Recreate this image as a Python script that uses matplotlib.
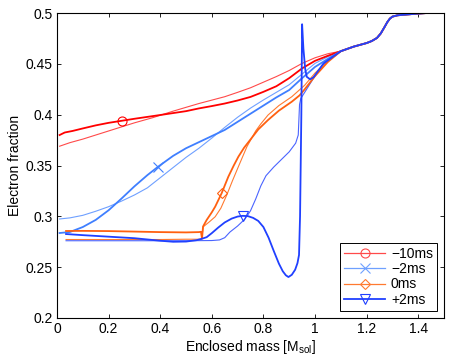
import matplotlib
matplotlib.use("Agg")
import matplotlib.pyplot as plt
from matplotlib.lines import Line2D

plt.rcParams['font.family'] = ['Liberation Sans', 'DejaVu Sans']
plt.rcParams['font.size'] = 10

# shared tail where all profiles converge
tail_x = [1.1, 1.15, 1.2, 1.22, 1.24, 1.255, 1.27, 1.28, 1.29, 1.30, 1.32, 1.35, 1.4, 1.43, 1.5]
tail_y = [0.4625, 0.467, 0.4705, 0.4725, 0.4755, 0.480, 0.4865, 0.491, 0.4945, 0.4965, 0.4978, 0.4985, 0.4995, 0.5, 0.5]

# -10ms
m10_thick_x = [0.01, 0.03, 0.06, 0.1, 0.15, 0.2, 0.25, 0.3, 0.4, 0.5, 0.55, 0.6, 0.65, 0.7, 0.75, 0.8,
               0.85, 0.9, 0.95, 1.0, 1.05]
m10_thick_y = [0.380, 0.3825, 0.384, 0.3865, 0.3895, 0.392, 0.394, 0.396, 0.3997, 0.4035, 0.4062, 0.4085, 0.411, 0.414, 0.4175, 0.4225,
               0.428, 0.436, 0.4456, 0.453, 0.458]
m10_thin_x = [0.01, 0.05, 0.1, 0.2, 0.3, 0.37, 0.45, 0.55, 0.65, 0.7, 0.75, 0.8, 0.85, 0.9, 0.95, 1.0, 1.05]
m10_thin_y = [0.369, 0.3725, 0.376, 0.384, 0.392, 0.397, 0.4035, 0.411, 0.4177, 0.422, 0.4265, 0.432, 0.4375, 0.4435, 0.4505, 0.456, 0.460]

# -2ms
m2_thick_x = [0.01, 0.05, 0.1, 0.15, 0.2, 0.25, 0.3, 0.35, 0.39, 0.45, 0.5, 0.55, 0.6, 0.65, 0.7, 0.75, 0.8,
              0.85, 0.9, 0.95, 1.0, 1.05]
m2_thick_y = [0.2836, 0.2846, 0.2895, 0.2965, 0.306, 0.3175, 0.3295, 0.3405, 0.3485, 0.3595, 0.367, 0.373, 0.379, 0.385, 0.393, 0.401, 0.409,
              0.417, 0.4243, 0.436, 0.447, 0.455]
m2_thin_x = [0.01, 0.05, 0.1, 0.15, 0.2, 0.25, 0.3, 0.35, 0.39, 0.45, 0.5, 0.55, 0.6, 0.65, 0.7, 0.75, 0.8,
             0.85, 0.9, 0.95, 1.0, 1.05]
m2_thin_y = [0.2974, 0.2985, 0.301, 0.305, 0.3095, 0.315, 0.321, 0.328, 0.336, 0.348, 0.358, 0.367, 0.377, 0.3875, 0.3975, 0.4065, 0.4145,
             0.422, 0.4295, 0.440, 0.4505, 0.457]

# 0ms
p0_thick_x = [0.035, 0.1, 0.2, 0.3, 0.4, 0.5, 0.55, 0.558, 0.562, 0.566, 0.58, 0.6, 0.613, 0.638, 0.664, 0.685, 0.703,
              0.725, 0.748, 0.78, 0.818, 0.86, 0.91, 0.94, 0.96, 0.98, 1.0, 1.05]
p0_thick_y = [0.2856, 0.2857, 0.2855, 0.285, 0.2845, 0.2842, 0.2845, 0.2848, 0.2780, 0.2900, 0.2964, 0.304, 0.3095, 0.3227, 0.339, 0.350, 0.3587,
              0.3675, 0.375, 0.3855, 0.3948, 0.404, 0.4128, 0.419, 0.425, 0.4315, 0.438, 0.452]
p0_thin_x = [0.035, 0.2, 0.4, 0.5, 0.56, 0.567, 0.59, 0.613, 0.635, 0.658, 0.68, 0.703, 0.72, 0.736, 0.77, 0.79,
             0.818, 0.86, 0.91, 0.96, 1.0, 1.05]
p0_thin_y = [0.2772, 0.2772, 0.2772, 0.2775, 0.2775, 0.2898, 0.2945, 0.2996, 0.308, 0.321, 0.335, 0.3489, 0.359, 0.3685, 0.384, 0.391,
             0.3997, 0.409, 0.4177, 0.429, 0.441, 0.453]

# +2ms
p2_thick_x = [0.035, 0.1, 0.2, 0.3, 0.4, 0.45, 0.5, 0.54, 0.562, 0.58, 0.6, 0.625, 0.65, 0.677, 0.70, 0.72, 0.74,
              0.76, 0.78, 0.80, 0.82, 0.84, 0.86, 0.875, 0.887, 0.897, 0.91, 0.923, 0.932, 0.938, 0.942,
              0.947, 0.950, 0.955, 0.962, 0.968, 0.981, 0.994, 1.033]
p2_thick_y = [0.2826, 0.2815, 0.2800, 0.2785, 0.2760, 0.2750, 0.2752, 0.2765, 0.2780, 0.2795, 0.2835, 0.2890, 0.2940, 0.2978, 0.2998, 0.3005, 0.3002,
              0.2985, 0.2955, 0.2895, 0.2790, 0.2660, 0.2535, 0.2460, 0.2420, 0.2403, 0.2425, 0.2475, 0.2540, 0.2620, 0.300,
              0.400, 0.489, 0.465, 0.445, 0.4373, 0.4348, 0.4368, 0.4505]
p2_thin_x = [0.035, 0.2, 0.4, 0.5, 0.6, 0.63, 0.65, 0.67, 0.7, 0.729, 0.75, 0.77, 0.79, 0.81, 0.84, 0.87, 0.9,
             0.925, 0.935, 0.94, 0.945, 0.96, 0.994, 1.03]
p2_thin_y = [0.276, 0.276, 0.276, 0.276, 0.2762, 0.2768, 0.279, 0.2845, 0.2905, 0.2975, 0.3055, 0.317, 0.330, 0.340, 0.3485, 0.356, 0.3635,
             0.372, 0.380, 0.410, 0.416, 0.422, 0.4358, 0.449]

labels = ['\u221210ms', '\u22122ms', '0ms', '+2ms']
colors = ['#ff0000', '#3f7fff', '#ff6010', '#2040ff']
thin_colors = ['#ff4a4a', '#6fa0ff', '#ff7a30', '#4a64ff']
markers = ['o', 'x', 'D', 'v']
mark_idx = [6, 8, 13, 15]

fig = plt.figure(figsize=(4.5, 3.6), dpi=100)
ax = fig.add_axes([0.1267, 0.1167, 0.86, 0.847])

thick = [(m10_thick_x, m10_thick_y), (m2_thick_x, m2_thick_y), (p0_thick_x, p0_thick_y), (p2_thick_x, p2_thick_y)]
thin = [(m10_thin_x, m10_thin_y), (m2_thin_x, m2_thin_y), (p0_thin_x, p0_thin_y), (p2_thin_x, p2_thin_y)]

for i in range(4):
    tx, ty = thin[i]
    ax.plot(tx + tail_x, ty + tail_y, color=thin_colors[i], lw=0.8)
for i in range(4):
    kx, ky = thick[i]
    ms = 5 if markers[i] == 'D' else 6.5
    ax.plot(kx + tail_x, ky + tail_y, color=colors[i], lw=1.3,
            marker=markers[i], markevery=[mark_idx[i]], mfc='none', ms=ms, mew=0.8)

ax.set_xlim(0, 1.5)
ax.set_ylim(0.2, 0.5)
ax.set_xticks([0, 0.2, 0.4, 0.6, 0.8, 1, 1.2, 1.4])
ax.set_xticklabels(['0', '0.2', '0.4', '0.6', '0.8', '1', '1.2', '1.4'])
ax.set_yticks([0.2, 0.25, 0.3, 0.35, 0.4, 0.45, 0.5])
ax.set_yticklabels(['0.2', '0.25', '0.3', '0.35', '0.4', '0.45', '0.5'])
ax.tick_params(direction='in', top=True, right=True, length=3, width=0.6, labelsize=10, pad=3)
for s in ax.spines.values():
    s.set_linewidth(0.8)

ax.set_xlabel('Enclosed mass [M$_\\mathregular{sol}$]', fontsize=10, labelpad=1)
ax.set_ylabel('Electron fraction', fontsize=10, labelpad=3)

handles = []
for i in range(4):
    ms = 5 if markers[i] == 'D' else 6.5
    handles.append(Line2D([], [], color=thin_colors[i] if i < 3 else colors[i], lw=0.9 if i < 3 else 1.3,
                          marker=markers[i], mfc='none', ms=ms, mew=0.8))
leg = ax.legend(handles, labels, loc='lower right', fancybox=False, edgecolor='black',
                framealpha=1, handlelength=3.0, borderaxespad=0.5, labelspacing=0.1,
                handletextpad=0.4, borderpad=0.3, fontsize=10)
leg.get_frame().set_linewidth(0.7)

fig.savefig('out.png', dpi=100)
